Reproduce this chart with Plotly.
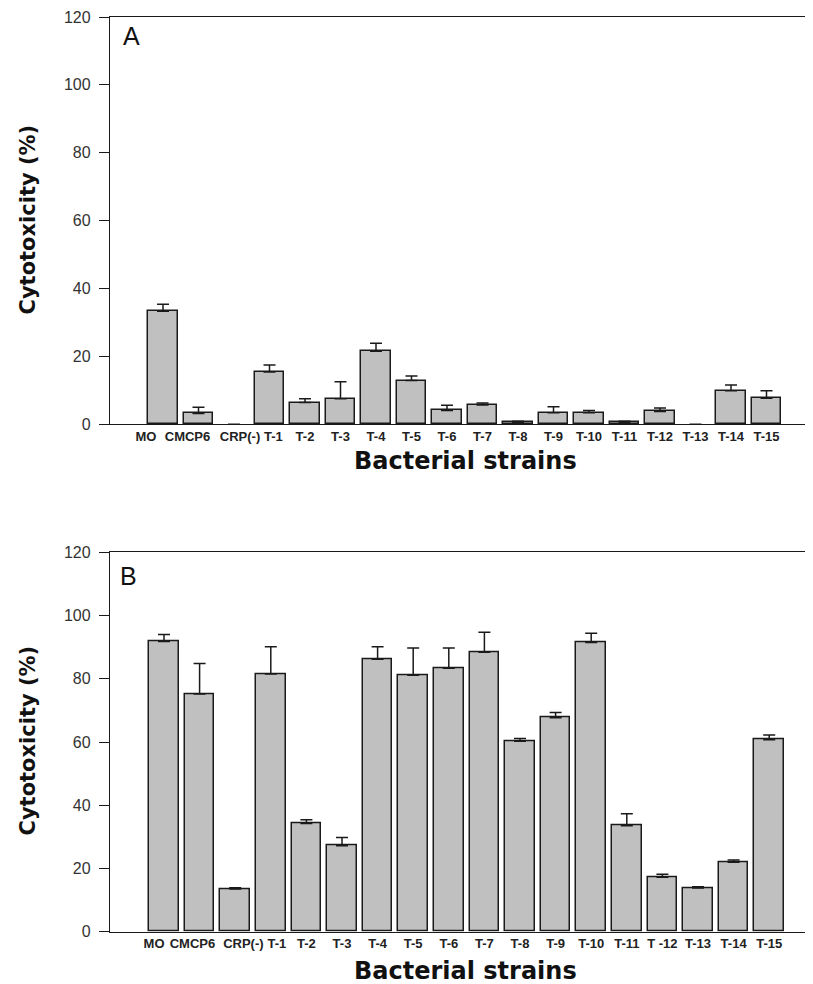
import plotly.graph_objects as go

categories_a = ["MO", "CMCP6", "CRP(-)", "T-1", "T-2", "T-3", "T-4", "T-5", "T-6",
                "T-7", "T-8", "T-9", "T-10", "T-11", "T-12", "T-13", "T-14", "T-15"]
categories_b = ["MO", "CMCP6", "CRP(-)", "T-1", "T-2", "T-3", "T-4", "T-5", "T-6",
                "T-7", "T-8", "T-9", "T-10", "T-11", "T -12", "T-13", "T-14", "T-15"]

values_a = [33.3, 3.2, 0, 15.4, 6.4, 7.5, 21.5, 12.9, 4.1, 5.7, 0.6, 3.4, 3.4, 0.6, 3.8, 0, 9.9, 7.7]
errors_a = [2.1, 1.8, 0, 2.1, 1.1, 5.0, 2.4, 1.3, 1.5, 0.6, 0.3, 1.8, 0.7, 0.3, 1.0, 0, 1.7, 2.2]

values_b = [91.8, 75.2, 13.5, 81.5, 34.2, 27.2, 86.2, 81.1, 83.3, 88.4, 60.2, 67.7, 91.5, 33.5, 17.2, 13.8, 22.0, 60.7]
errors_b = [2.2, 9.6, 0.4, 8.6, 1.2, 2.6, 3.9, 8.6, 6.4, 6.3, 0.9, 1.6, 2.9, 3.8, 1.0, 0.4, 0.7, 1.5]

y_ticks = [0, 20, 40, 60, 80, 100, 120]

# The page body has an 8px default margin; lay out in page pixels and subtract it.
OFF = 8
W, H = 813, 984 - OFF
BAR_FILL = "#c0c0c0"
LINE = "#1a1a1a"

fig = go.Figure()

def add_bars(cats, vals, errs, xa, ya):
    # zero-valued entries have no visible bar in the reference
    line_w = [1.5 if v > 0 else 0 for v in vals]
    err_up = [e if v > 0 else None for v, e in zip(vals, errs)]
    err_dn = [0 if v > 0 else None for v in vals]
    fig.add_trace(go.Bar(
        x=list(range(len(cats))), y=vals,
        xaxis=xa, yaxis=ya,
        width=0.83,
        marker=dict(color=BAR_FILL, line=dict(color=LINE, width=line_w)),
        error_y=dict(type="data", array=err_up, arrayminus=err_dn,
                     symmetric=False, color=LINE, thickness=1.5, width=6),
        showlegend=False, hoverinfo="x+y",
    ))

add_bars(categories_a, values_a, errors_a, "x", "y")
add_bars(categories_b, values_b, errors_b, "x2", "y2")

def px_x(p):
    return (p - OFF) / W

def px_y(p):
    return 1 - (p - OFF) / H

# crowded first labels sit slightly off their bar centres in the reference
shift_a = [-0.48, -0.31, 0.17, 0.11] + [0] * 14
shift_b = [-0.28, -0.20, 0.23, 0.17] + [0] * 14
tickpos_a = [i + s for i, s in enumerate(shift_a)]
tickpos_b = [i + s for i, s in enumerate(shift_b)]

right_page_px = OFF + W
xdom = [px_x(110), 1.0]
ydom_a = [px_y(424.3), px_y(17)]
ydom_b = [px_y(931.7), px_y(552.3)]

xcommon = dict(
    showline=True, linecolor=LINE, linewidth=1.3, mirror=True,
    ticks="", showgrid=False, zeroline=False, tickmode="array",
    tickangle=0, automargin=False, ticklabelstandoff=0,
    tickfont=dict(family="Arial, Liberation Sans", size=13, color="#222", weight="bold"),
)
ycommon = dict(
    showline=True, linecolor=LINE, linewidth=1.3,
    ticks="outside", ticklen=10, tickcolor=LINE, tickwidth=1.2,
    showgrid=False, zeroline=False, tickvals=y_ticks, range=[0, 120],
    automargin=False, ticklabelstandoff=5,
    tickfont=dict(family="Arial, Liberation Sans", size=16, color="#333"),
)

fig.update_layout(
    width=W, height=H,
    margin=dict(l=0, r=0, t=0, b=0, autoexpand=False),
    paper_bgcolor="white", plot_bgcolor="white",
    bargap=0,
    xaxis=dict(domain=xdom, anchor="y",
               range=[(110 - 163) / 35.5, (right_page_px - 163) / 35.5],
               tickvals=tickpos_a, ticktext=categories_a, **xcommon),
    yaxis=dict(domain=ydom_a, anchor="x", **ycommon),
    xaxis2=dict(domain=xdom, anchor="y2",
                range=[(110 - 164) / 35.6, (right_page_px - 164) / 35.6],
                tickvals=tickpos_b, ticktext=categories_b, **xcommon),
    yaxis2=dict(domain=ydom_b, anchor="x2", **ycommon),
)

title_font = dict(family="DejaVu Sans, Arial", size=24, color="#111")
ytitle_font = dict(family="DejaVu Sans, Arial", size=21, color="#111")
letter_font = dict(family="Arial, Liberation Sans", size=25, color="#111")

annotations = [
    dict(text="<b>Bacterial strains</b>", x=px_x(465), y=px_y(461), font=title_font),
    dict(text="<b>Bacterial strains</b>", x=px_x(465), y=px_y(971), font=title_font),
    dict(text="<b>Cytotoxicity (%)</b>", x=px_x(27.5), y=px_y(220), font=ytitle_font, textangle=-90),
    dict(text="<b>Cytotoxicity (%)</b>", x=px_x(27.5), y=px_y(741), font=ytitle_font, textangle=-90),
    dict(text="A", x=px_x(131), y=px_y(36), font=letter_font),
    dict(text="B", x=px_x(128), y=px_y(576), font=letter_font),
]
for a in annotations:
    a.update(xref="paper", yref="paper", showarrow=False, xanchor="center", yanchor="middle")
fig.update_layout(annotations=annotations)

fig.write_html("out.html")
